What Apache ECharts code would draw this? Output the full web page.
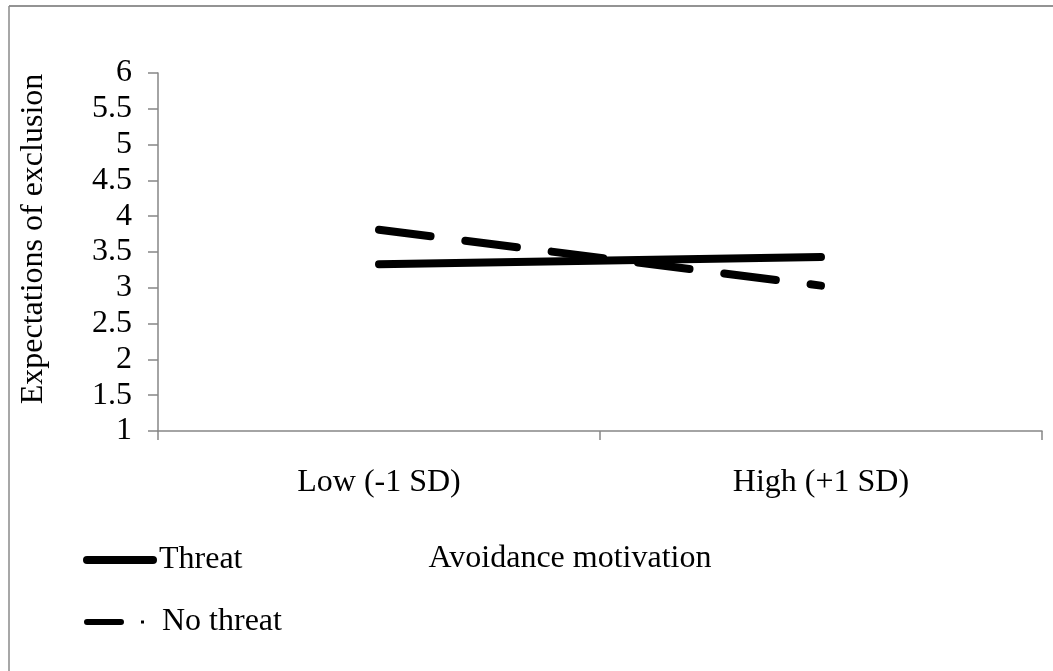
<!DOCTYPE html>
<html>
<head>
<meta charset="utf-8">
<script src="https://cdn.jsdelivr.net/npm/echarts@6/dist/echarts.min.js"></script>
<style>
html,body{margin:0;padding:0;background:#fff;}
#chart{width:1053px;height:671px;}
</style>
</head>
<body>
<div id="chart"></div>
<script>
var categories = ['Low (-1 SD)', 'High (+1 SD)'];
var threatValues = [3.33, 3.43];
var noThreatValues = [3.81, 3.03];
var seriesNames = ['Threat', 'No threat'];
var yTicks = [1, 1.5, 2, 2.5, 3, 3.5, 4, 4.5, 5, 5.5, 6];

var FONT = '"Liberation Serif", "Times New Roman", serif';
var FS = 32;
var AXIS_COLOR = '#868686';

var chart = echarts.init(document.getElementById('chart'));
chart.setOption({
  backgroundColor: '#fff',
  animation: false,
  textStyle: { fontFamily: FONT, color: '#000' },
  grid: { left: 158, right: 11, top: 73, bottom: 240, containLabel: false },
  graphic: [
    { type: 'line', shape: { x1: 9, y1: 6, x2: 1053, y2: 6 }, style: { stroke: '#6f6f6f', lineWidth: 1.5 } },
    { type: 'line', shape: { x1: 9, y1: 6, x2: 9, y2: 671 }, style: { stroke: '#8a8a8a', lineWidth: 1.5 } }
  ],
  legend: [
    {
      data: [{ name: seriesNames[0], icon: 'path://M4,0 L70,0 A4,4 0 0 1 70,8 L4,8 A4,4 0 0 1 4,0 Z' }],
      orient: 'vertical', left: 78, top: 539,
      itemWidth: 74, itemHeight: 8, itemGap: 0,
      textStyle: { fontFamily: FONT, fontSize: FS, color: '#000', padding: [0, 0, 0, -3] }
    },
    {
      data: [{ name: seriesNames[1], icon: 'path://M3,0 L37,0 A3,3 0 0 1 37,6 L3,6 A3,3 0 0 1 3,0 Z M57,1.5 L60,1.5 L60,4.5 L57,4.5 Z' }],
      orient: 'vertical', left: 79, top: 601,
      itemWidth: 60, itemHeight: 6, itemGap: 0,
      textStyle: { fontFamily: FONT, fontSize: FS, color: '#000', padding: [0, 0, 0, 13] }
    }
  ],
  xAxis: {
    type: 'category',
    data: categories,
    boundaryGap: true,
    name: 'Avoidance motivation',
    nameLocation: 'middle',
    nameGap: 112,
    nameTextStyle: { fontFamily: FONT, fontSize: FS, color: '#000', padding: [0, 60, 0, 0] },
    axisLine: { lineStyle: { color: AXIS_COLOR, width: 1.5 } },
    axisTick: { show: true, length: 9, alignWithLabel: false, lineStyle: { color: AXIS_COLOR, width: 1.5 } },
    axisLabel: { fontFamily: FONT, fontSize: FS, color: '#000', margin: 36 },
    splitLine: { show: false }
  },
  yAxis: {
    type: 'value',
    min: yTicks[0],
    max: yTicks[yTicks.length - 1],
    interval: 0.5,
    name: 'Expectations of exclusion',
    nameLocation: 'middle',
    nameGap: 108,
    nameRotate: 90,
    nameTextStyle: { fontFamily: FONT, fontSize: FS, color: '#000', padding: [0, 0, 0, 26] },
    axisLine: { show: true, lineStyle: { color: AXIS_COLOR, width: 1.5 } },
    axisTick: { show: true, length: 10, lineStyle: { color: AXIS_COLOR, width: 1.5 } },
    axisLabel: { fontFamily: FONT, fontSize: FS, color: '#000', margin: 26,
      formatter: function (v) { return String(v); } },
    splitLine: { show: false }
  },
  series: [
    {
      name: seriesNames[0], type: 'line', data: threatValues,
      symbol: 'none', color: '#000',
      lineStyle: { color: '#000', width: 8, cap: 'round' }
    },
    {
      name: seriesNames[1], type: 'line', data: noThreatValues,
      symbol: 'none', color: '#000',
      lineStyle: { color: '#000', width: 8, type: [52, 35], cap: 'round' }
    }
  ]
});
</script>
</body>
</html>
